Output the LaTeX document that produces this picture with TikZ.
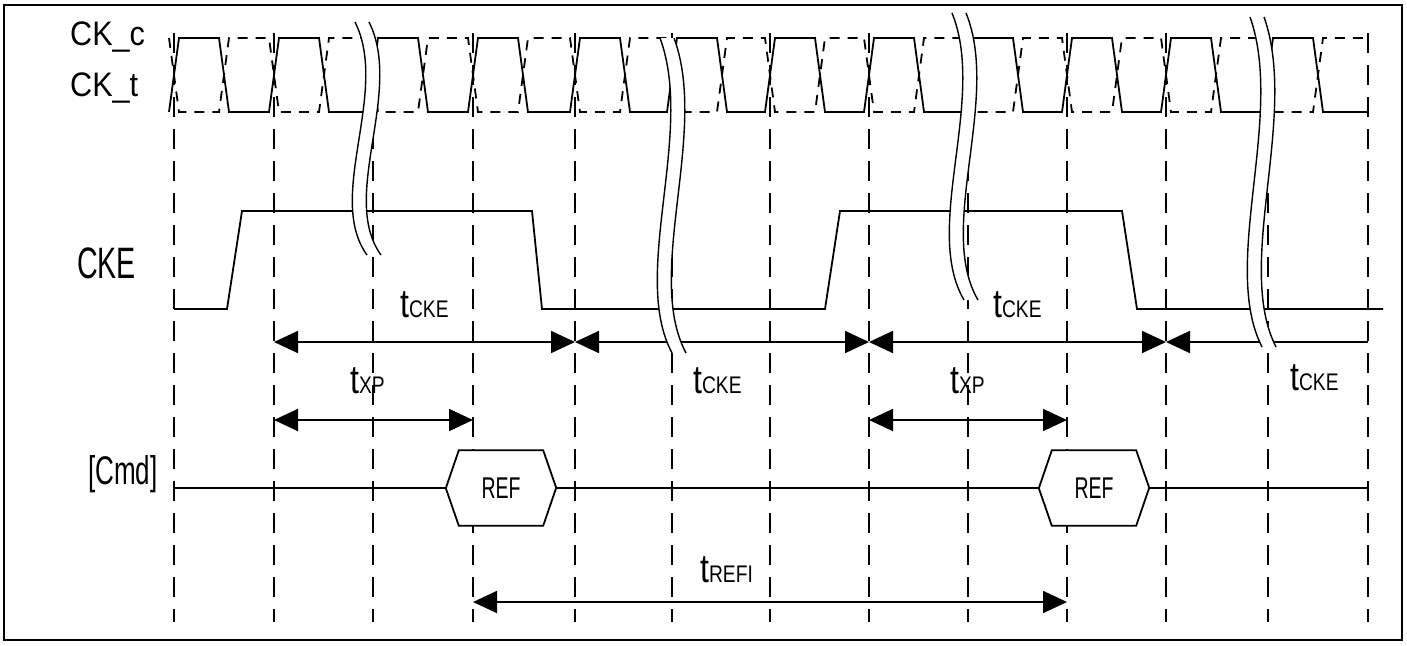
\documentclass[tikz,border=0pt]{standalone}
\usepackage{fontspec}
\newfontfamily\lblfont{Liberation Sans}[FakeStretch=0.65]
\newfontfamily\ckfont{Liberation Sans}[FakeStretch=0.9]
\newfontfamily\tfont{Liberation Sans}[FakeStretch=0.8]
\usetikzlibrary{arrows.meta}

\tikzset{
  sig/.style={line width=1.8pt},
  grid/.style={line width=1.4pt, dash pattern=on 20pt off 12pt},
  ckc/.style={line width=1.8pt, dash pattern=on 10pt off 8pt},
  brk/.style={line width=1.4pt},
  dim/.style={line width=1.8pt, {Triangle[length=24pt,width=22pt]}-{Triangle[length=24pt,width=22pt]}},
  dimL/.style={line width=1.8pt, {Triangle[length=24pt,width=22pt]}-},
  side/.style={font=\lblfont\fontsize{44}{44}\selectfont, anchor=base west, inner sep=0},
  cklbl/.style={font=\ckfont\fontsize{34}{34}\selectfont, anchor=base west, inner sep=0},
  tim/.style={font=\tfont, anchor=base west, inner sep=0},
  refbox/.style={fill=white, minimum width=84pt, minimum height=75pt, inner sep=0,
    font=\lblfont\fontsize{30}{30}\selectfont},
}

% t with small index
\newcommand\tlab[2]{{\fontsize{40}{40}\selectfont #1}{\fontsize{24}{24}\selectfont #2}}

% break mark: x, top, bottom
\newcommand\brkmark[3]{%
  \fill[white] (#1,#2) .. controls (#1+35,{#2+0.3*(#3-#2)}) and (#1-30,{#2+0.75*(#3-#2)}) .. (#1+12,#3)
    -- (#1+26,#3) .. controls (#1-16,{#2+0.75*(#3-#2)}) and (#1+49,{#2+0.3*(#3-#2)}) .. (#1+14,#2) -- cycle;
  \draw[brk] (#1,#2) .. controls (#1+35,{#2+0.3*(#3-#2)}) and (#1-30,{#2+0.75*(#3-#2)}) .. (#1+12,#3);
  \draw[brk] (#1+14,#2) .. controls (#1+49,{#2+0.3*(#3-#2)}) and (#1-16,{#2+0.75*(#3-#2)}) .. (#1+26,#3);
}

\begin{document}
\begin{tikzpicture}[x=1pt,y=-1pt]
\useasboundingbox (0,0) rectangle (1407,645);
\draw[line width=2pt] (4,5) rectangle (1402,640);

% time grid
\foreach \x [count=\i from 0] in {174,274,373,473,575,672,770,869,968,1067,1166,1268,1368}{
  \coordinate (ch\i) at (\x,38);
  \coordinate (cl\i) at (\x,112);
  \coordinate (gt\i) at (\x,33);
  \coordinate (gb\i) at (\x,622);
  \coordinate (k\i) at (\x,342);
  \coordinate (p\i) at (\x,420);
  \coordinate (r\i) at (\x,602);
  \coordinate (m\i) at (\x,488);
}
\foreach \i in {0,...,12} \draw[grid] (gt\i) -- (gb\i);

% clocks
\draw[sig] ([xshift=-5pt]cl0) \foreach \i in {0,...,11}{
  -- ([xshift=-5pt]cl\i) -- ([xshift=5pt]ch\i) -- ([xshift=45pt]ch\i) -- ([xshift=55pt]cl\i) } -- (cl12);
\draw[ckc] ([xshift=-5pt]ch0) \foreach \i in {0,...,11}{
  -- ([xshift=-5pt]ch\i) -- ([xshift=5pt]cl\i) -- ([xshift=45pt]cl\i) -- ([xshift=55pt]ch\i) } -- (ch12);

% CKE
\draw[sig] (174,309) -- (227,309) -- (242,211) -- (532,211) -- (542,309) -- (825,309)
  -- (840,211) -- (1122,211) -- (1137,309) -- (1383,309);

% timings
\draw[dim] (k1) -- (k4);
\draw[dim] (k4) -- (k7);
\draw[dim] (k7) -- (k10);
\draw[dimL] (k10) -- (k12);
\draw[dim] (p1) -- (p3);
\draw[dim] (p7) -- (p9);
\draw[dim] (r3) -- (r9);

% breaks
\brkmark{355}{22}{255}
\brkmark{660}{38}{353}
\brkmark{952}{13}{300}
\brkmark{1250}{17}{347}

% command bus
\node[refbox] (ref1) at (501,488) {REF};
\node[refbox] (ref2) at (1094,488) {REF};
\foreach \r in {ref1,ref2}
  \draw[sig] (\r.north west) -- (\r.north east) -- ++(13,37.5) -- (\r.south east)
    -- (\r.south west) -- ++(-13,-37.5) -- cycle;
\draw[sig] (m0) -- ([xshift=-13pt]ref1.west);
\draw[sig] ([xshift=13pt]ref1.east) -- ([xshift=-13pt]ref2.west);
\draw[sig] ([xshift=13pt]ref2.east) -- (m12);

% labels
\node[cklbl] (lckc) at (70,45) {CK\_c};
\node[cklbl] (lckt) at (70,96) {CK\_t};
\node[side] (lcke) at (77,278) {CKE};
\node[side, font=\lblfont\fontsize{40}{40}\selectfont] (lcmd) at (88,484) {[Cmd]};
\node[tim] (tcke1) at (400,317) {\tlab{t}{CKE}};
\node[tim] (tcke2) at (693,393) {\tlab{t}{CKE}};
\node[tim] (tcke3) at (993,317) {\tlab{t}{CKE}};
\node[tim] (tcke4) at (1290,390) {\tlab{t}{CKE}};
\node[tim] (txp1) at (350,393) {\tlab{t}{XP}};
\node[tim] (txp2) at (950,393) {\tlab{t}{XP}};
\node[tim] (trefi) at (700,582) {\tlab{t}{REFI}};
\end{tikzpicture}
\end{document}
